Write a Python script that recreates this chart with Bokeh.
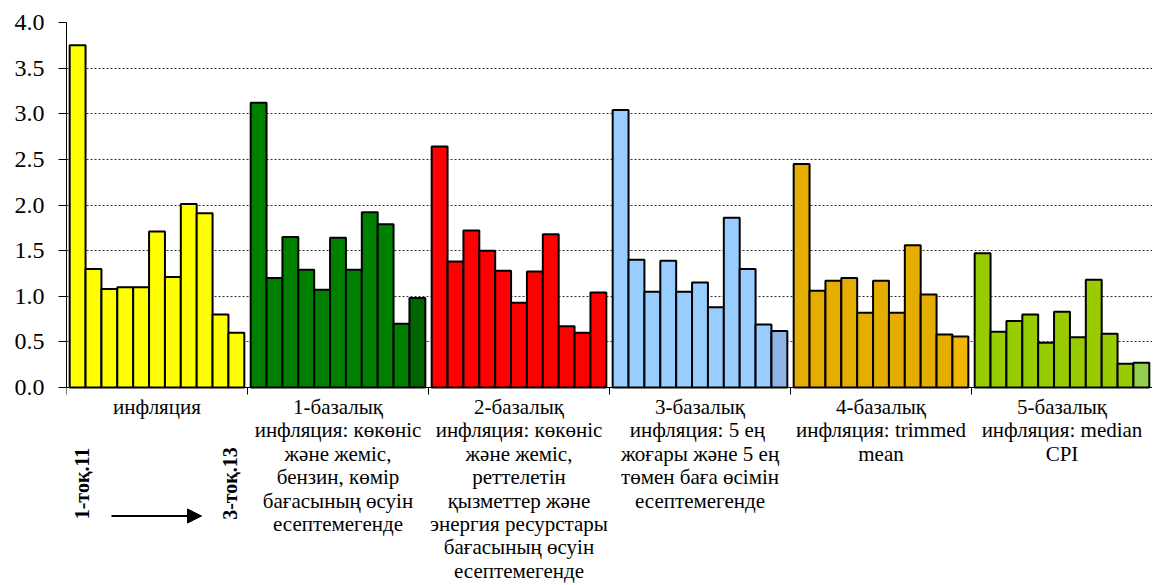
import math
from bokeh.plotting import figure
from bokeh.models import (Range1d, FixedTicker, Arrow, NormalHead,
                          ColumnDataSource, PrintfTickFormatter)
from bokeh.core.properties import value
from bokeh.embed import file_html
from bokeh.resources import INLINE

# ---- data ----
categories = [
    ["инфляция"],
    ["1-базалық", "инфляция: көкөніс", "және жеміс,", "бензин, көмір",
     "бағасының өсуін", "есептемегенде"],
    ["2-базалық", "инфляция: көкөніс", "және жеміс,", "реттелетін",
     "қызметтер және", "энергия ресурстары", "бағасының өсуін", "есептемегенде"],
    ["3-базалық", "инфляция:  5 ең", "жоғары және 5 ең", "төмен баға өсімін",
     "есептемегенде"],
    ["4-базалық", "инфляция: trimmed", "mean"],
    ["5-базалық", "инфляция: median", "CPI"],
]
inflation = [3.75, 1.30, 1.08, 1.10, 1.10, 1.71, 1.21, 2.01, 1.91, 0.80, 0.60]
core1 = [3.12, 1.20, 1.65, 1.29, 1.07, 1.64, 1.29, 1.92, 1.79, 0.70, 0.98]
core2 = [2.64, 1.38, 1.72, 1.50, 1.28, 0.93, 1.27, 1.68, 0.67, 0.60, 1.04]
core3 = [3.04, 1.40, 1.05, 1.39, 1.05, 1.15, 0.88, 1.86, 1.30, 0.69, 0.62]
core4 = [2.45, 1.06, 1.17, 1.20, 0.82, 1.17, 0.82, 1.56, 1.02, 0.58, 0.56]
core5 = [1.47, 0.61, 0.73, 0.80, 0.49, 0.83, 0.55, 1.18, 0.59, 0.26, 0.27]
series = [inflation, core1, core2, core3, core4, core5]
period_labels = ["1-тоқ.11", "3-тоқ.13"]
y_ticks = [0.0, 0.5, 1.0, 1.5, 2.0, 2.5, 3.0, 3.5, 4.0]

# ---- styles / geometry ----
main_colors = ["#FFFF00", "#008000", "#FF0000", "#99CCFF", "#E4AD00", "#99CC00"]
last_colors = ["#FFFF00", "#006600", "#FF0000", "#8DB4E2", "#F2B705", "#92D050"]
GROUP = 11.4
PAD = 0.2
SERIF = "Liberation Serif"
W, H = 1152, 585
LEFT, TOP = 66, 22
PXY = 91.25                      # pixels per y unit
Y_MAX = 4.0
Y_MIN = Y_MAX - (H - TOP) / PXY  # room below zero for category labels

xs, tops, cols = [], [], []
for g, vals in enumerate(series):
    for i, v in enumerate(vals):
        xs.append(g * GROUP + PAD + i + 0.5)
        tops.append(v)
        cols.append(last_colors[g] if i == len(vals) - 1 else main_colors[g])
src = ColumnDataSource(dict(x=xs, top=tops, color=cols))

n_groups = len(series)
x_end = n_groups * GROUP
PXX = (W - LEFT) / x_end

def below(px):
    """y value lying px pixels below the zero line"""
    return -px / PXY

p = figure(width=W, height=H, x_range=Range1d(0, x_end), y_range=Range1d(Y_MIN, Y_MAX),
           output_backend="svg", toolbar_location=None, x_axis_type=None,
           min_border_left=LEFT, min_border_right=0, min_border_top=TOP, min_border_bottom=0)
p.outline_line_color = None

# grid
p.xgrid.visible = False
p.ygrid.ticker = FixedTicker(ticks=y_ticks[1:])
p.ygrid.grid_line_color = "#333333"
p.ygrid.grid_line_dash = "2 2"
p.ygrid.grid_line_width = 1

# y axis
p.yaxis.bounds = (0, Y_MAX)
p.yaxis.ticker = FixedTicker(ticks=y_ticks)
p.yaxis.formatter = PrintfTickFormatter(format="%.1f")
p.yaxis.major_label_text_font = SERIF
p.yaxis.major_label_text_font_size = "24px"
p.yaxis.major_label_text_color = "black"
p.yaxis.major_tick_out = 8
p.yaxis.major_tick_in = 0
p.yaxis.minor_tick_out = 0
p.yaxis.minor_tick_in = 0
p.yaxis.major_label_standoff = 14
p.yaxis.axis_line_color = "black"
p.yaxis.major_tick_line_color = "black"

# bars
p.vbar(x="x", top="top", width=1.0, bottom=0, fill_color="color",
       line_color="black", line_width=2, source=src)

# category axis: line at zero and boundary ticks
bounds = [g * GROUP for g in range(n_groups + 1)]
p.segment(x0=[0], y0=[0], x1=[x_end], y1=[0], line_color="black", line_width=1)
p.segment(x0=bounds, y0=[0] * len(bounds), x1=bounds, y1=[below(7)] * len(bounds),
          line_color="black", line_width=1)

# category labels
LINE = 23.4
tx, ty, tt = [], [], []
for g, lines in enumerate(categories):
    for k, t in enumerate(lines):
        tx.append(g * GROUP + GROUP / 2)
        ty.append(below(19.5 + LINE * k))
        tt.append(t)
p.text(x=tx, y=ty, text=tt, text_align="center", text_baseline="middle",
       text_font=value(SERIF), text_font_size="21px", text_color="black")

# period annotation
def ax(px):
    return (px - 68) / PXX

p.text(x=[ax(83), ax(231)], y=[below(96), below(96)], text=period_labels,
       angle=math.pi / 2, text_align="center", text_baseline="middle",
       text_font=value(SERIF), text_font_size="20px", text_font_style="bold",
       text_color="black")
p.add_layout(Arrow(x_start=ax(113), y_start=below(128.5), x_end=ax(203), y_end=below(128.5),
                   line_color="black", line_width=2,
                   end=NormalHead(size=14, fill_color="black", line_color="black")))

open("out.html", "w").write(file_html(p, INLINE))
